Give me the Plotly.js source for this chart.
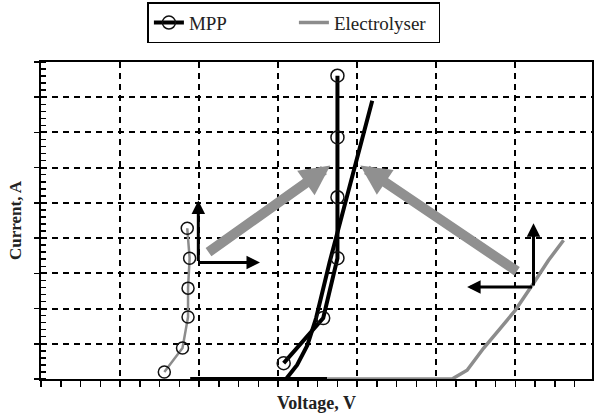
<!DOCTYPE html>
<html>
<head>
<meta charset="utf-8">
<script src="https://cdn.plot.ly/plotly-3.0.1.min.js"></script>
<style>
html,body{margin:0;padding:0;background:#fff;}
#chart{width:595px;height:417px;}
</style>
</head>
<body>
<div id="chart"></div>
<script>
// ---- data (voltage, current in grid units) ----
const mppV = [3.07, 3.57, 3.75, 3.75, 3.75, 3.75];
const mppI = [0.45, 1.73, 3.43, 5.16, 6.86, 8.61];

const pvV = [1.89, 3.10, 3.24, 3.37, 3.48, 3.56, 3.65, 3.75, 3.86, 3.98, 4.08, 4.19];
const pvI = [0.00, 0.00, 0.40, 0.96, 1.73, 2.52, 3.31, 4.16, 5.07, 6.06, 6.97, 7.90];

const baseV = [1.89, 3.62];
const baseI = [0, 0];

const elecV = [3.62, 5.20, 5.39, 5.60, 5.81, 6.00, 6.23, 6.42, 6.61];
const elecI = [0.00, 0.00, 0.25, 0.88, 1.44, 1.95, 2.72, 3.37, 3.94];

const lowV = [1.56, 1.79, 1.86, 1.86, 1.88, 1.85];
const lowI = [0.20, 0.88, 1.76, 2.58, 3.43, 4.28];

// arrows: [tailV, tailI, tipV, tipI]
const greyArrows = [[2.10, 3.57, 3.66, 6.06], [6.04, 3.03, 4.04, 6.06]];
const blackArrows = [[1.99, 3.31, 1.99, 5.07], [1.99, 3.31, 2.77, 3.31],
                     [6.23, 2.61, 6.23, 4.42], [6.23, 2.61, 5.39, 2.61]];

const legendNames = ['MPP', 'Electrolyser'];
const xTitle = 'Voltage, V';
const yTitle = 'Current, A';

// ---- traces ----
const traces = [
  {x: baseV, y: baseI, mode: 'lines', line: {color: '#000', width: 4}, showlegend: false, hoverinfo: 'skip'},
  {x: elecV, y: elecI, mode: 'lines', name: legendNames[1], line: {color: '#8c8c8c', width: 3.5}, showlegend: true},
  {x: lowV, y: lowI, mode: 'lines+markers', line: {color: '#8c8c8c', width: 2.5},
   marker: {symbol: 'circle-open', size: 12, color: '#111', line: {width: 1.5}}, showlegend: false},
  {x: pvV, y: pvI, mode: 'lines', line: {color: '#000', width: 4}, showlegend: false},
  {x: mppV, y: mppI, mode: 'lines+markers', name: legendNames[0], line: {color: '#000', width: 4},
   marker: {symbol: 'circle-open', size: 13, color: '#111', line: {width: 1.5}}}
];

const annotations = [];
greyArrows.forEach(a => annotations.push({
  x: a[2], y: a[3], ax: a[0], ay: a[1], xref: 'x', yref: 'y', axref: 'x', ayref: 'y',
  text: '', showarrow: true, arrowhead: 2, arrowsize: 0.6, arrowwidth: 10, arrowcolor: '#909090', standoff: 0
}));
blackArrows.forEach(a => annotations.push({
  x: a[2], y: a[3], ax: a[0], ay: a[1], xref: 'x', yref: 'y', axref: 'x', ayref: 'y',
  text: '', showarrow: true, arrowhead: 2, arrowsize: 0.9, arrowwidth: 3, arrowcolor: '#000', standoff: 0
}));

const serif = '"Liberation Serif", "Times New Roman", serif';

const layout = {
  width: 595, height: 417,
  margin: {l: 41, r: 3, t: 61, b: 38},
  paper_bgcolor: '#fff', plot_bgcolor: '#fff',
  font: {family: serif, color: '#222'},
  showlegend: true,
  legend: {
    orientation: 'h', x: 0.459, xanchor: 'center', y: 1.185, yanchor: 'top',
    bordercolor: '#000', borderwidth: 1.5, font: {family: serif, size: 19, color: '#222'},
    traceorder: 'reversed', entrywidth: 100, entrywidthmode: 'pixels'
  },
  xaxis: {
    range: [0, 6.97], dtick: 1, tick0: 0, showticklabels: false,
    showgrid: true, gridcolor: '#000', gridwidth: 2, griddash: '6px,5px',
    zeroline: false, showline: true, linecolor: '#000', linewidth: 2, mirror: true,
    ticks: 'outside', ticklen: 6, tickcolor: '#000', tickwidth: 1.5,
    minor: {dtick: 0.25, ticks: 'outside', ticklen: 6, tickcolor: '#000', tickwidth: 1.5, showgrid: false},
    title: {text: '<b>' + xTitle + '</b>', font: {family: serif, size: 18, color: '#222'}, standoff: 10}
  },
  yaxis: {
    range: [0, 9], dtick: 1, tick0: 0, showticklabels: false,
    showgrid: true, gridcolor: '#000', gridwidth: 2, griddash: '6px,5px',
    zeroline: false, showline: true, linecolor: '#000', linewidth: 2, mirror: true,
    ticks: 'outside', ticklen: 5, tickcolor: '#000', tickwidth: 1.5,
    minor: {dtick: 0.2, ticks: 'inside', ticklen: 5, tickcolor: '#000', tickwidth: 1.5, showgrid: false},
    title: {text: '<b>' + yTitle + '</b>', font: {family: serif, size: 17, color: '#222'}, standoff: 8}
  },
  annotations: annotations
};

Plotly.newPlot('chart', traces, layout, {displayModeBar: false, staticPlot: true});
</script>
</body>
</html>
